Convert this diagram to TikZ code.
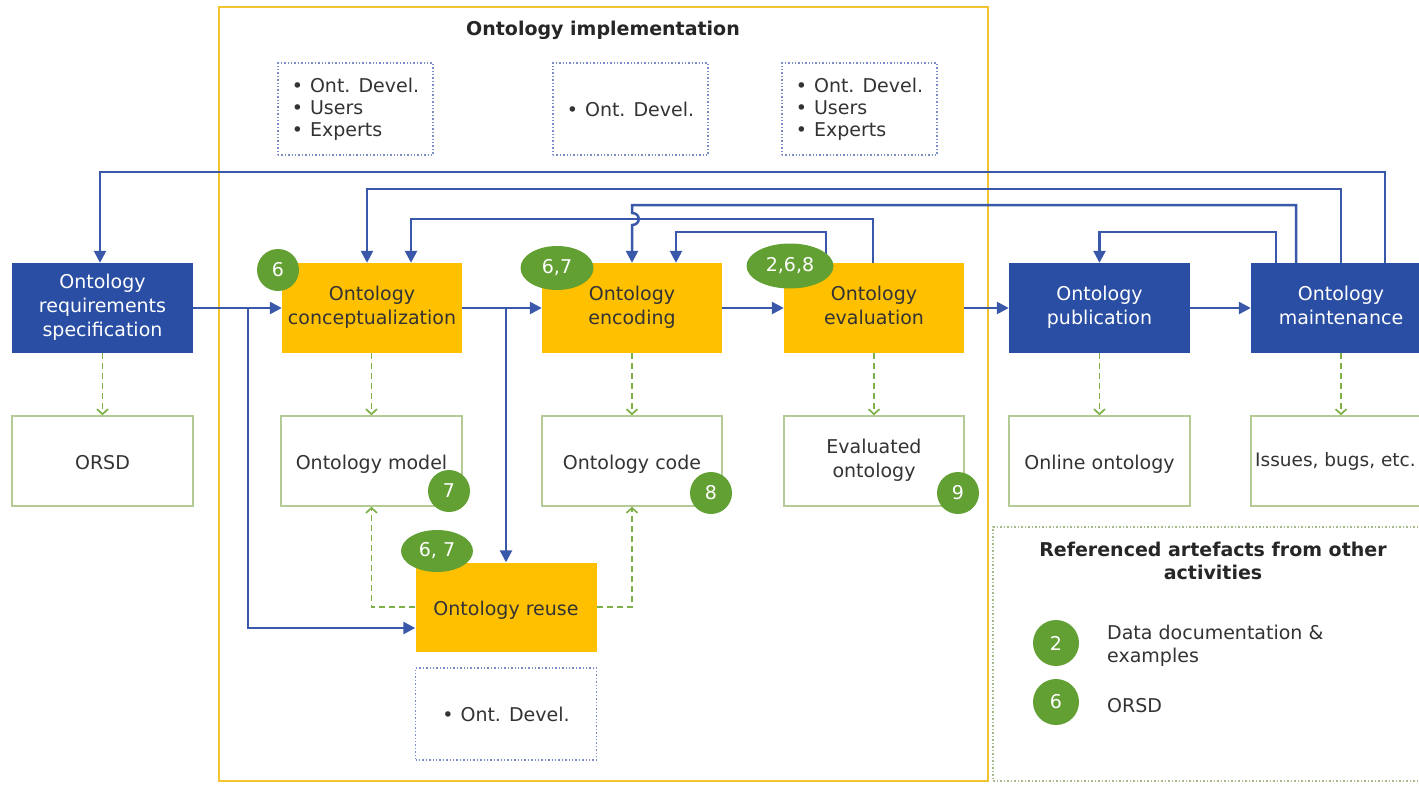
\documentclass[tikz,border=0pt]{standalone}
\usepackage{fontspec}
\setmainfont{DejaVu Sans}
\usetikzlibrary{arrows.meta,shapes.geometric,calc}
\definecolor{dblue}{HTML}{2A4EA3}
\definecolor{ablue}{HTML}{3A58AA}
\definecolor{oyellow}{HTML}{FFC000}
\definecolor{fyellow}{HTML}{F4C430}
\definecolor{gbadge}{HTML}{62A033}
\definecolor{obord}{HTML}{B5CB95}
\definecolor{dgreen}{HTML}{7DB046}
\definecolor{pdot}{HTML}{7C8CC6}
\definecolor{rdot}{HTML}{A5B98A}
\definecolor{txt}{HTML}{333333}
\tikzset{
  flow/.style={draw=ablue, line width=2.5pt, -{Triangle[length=12pt,width=12pt]}},
  prod/.style={draw=dgreen, line width=1.7pt, dash pattern=on 6pt off 4pt, -{Straight Barb[length=5pt,width=11pt]}},
  boxtext/.style={align=center, inner sep=0pt, execute at begin node=\rule{0pt}{23pt}, execute at end node=\rule[-6pt]{0pt}{6pt}},
  bluebox/.style={boxtext, fill=dblue, text=white, minimum width=181pt, minimum height=90pt},
  yelbox/.style={boxtext, fill=oyellow, text=txt, minimum width=180pt, minimum height=90pt},
  outbox/.style={boxtext, draw=obord, line width=1.5pt, fill=white, text=txt, minimum width=181pt, minimum height=90pt},
  pplbox/.style={draw=pdot, line width=1.4pt, dotted, minimum width=155pt, minimum height=92pt, align=left, inner sep=0pt, text=txt, font=\fontsize{19}{22}\selectfont},
  badge/.style={circle, fill=gbadge, text=white, minimum size=42pt, inner sep=0pt},
  obadge/.style={ellipse, fill=gbadge, text=white, minimum width=73pt, minimum height=44pt, inner sep=0pt},
}
\begin{document}
\begin{tikzpicture}[x=1pt,y=-1pt,font=\fontsize{19}{24}\selectfont]
\clip (0,0) rectangle (1419,785);
\fill[white] (0,0) rectangle (1419,785);

% frames
\draw[fyellow, line width=2pt] (219,7) rectangle (988,781);
\node[font=\bfseries\fontsize{19}{23}\selectfont, text=black!85] (ttl) at (603,30) {Ontology implementation};
\node[draw=rdot, line width=1.5pt, dotted, minimum width=432pt, minimum height=254pt, inner sep=0pt] (refbox) at (1209,654) {};

% people boxes
\node[pplbox] (ppl1) at (355.5,109) {•\hspace{7pt}Ont. Devel.\\•\hspace{7pt}Users\\•\hspace{7pt}Experts};
\node[pplbox] (ppl2) at (630.5,109) {•\hspace{7pt}Ont. Devel.};
\node[pplbox] (ppl3) at (859.5,109) {•\hspace{7pt}Ont. Devel.\\•\hspace{7pt}Users\\•\hspace{7pt}Experts};
\node[pplbox, minimum width=181pt] (ppl4) at (506,714) {•\hspace{7pt}Ont. Devel.};

% activity boxes
\node[bluebox] (ors) at (102.5,308) {Ontology\\requirements\\specification};
\node[yelbox] (concept) at (372,308) {Ontology\\conceptualization};
\node[yelbox] (encode) at (632,308) {Ontology\\encoding};
\node[yelbox] (eval) at (874,308) {Ontology\\evaluation};
\node[bluebox] (pub) at (1099.5,308) {Ontology\\publication};
\node[bluebox, minimum width=180pt] (maint) at (1341,308) {Ontology\\maintenance};
\node[yelbox, minimum width=181pt, minimum height=89pt] (reuse) at (506,607) {Ontology reuse};

% output boxes
\node[outbox] (orsd) at (102.5,461) {ORSD};
\node[outbox] (model) at (371.5,461) {Ontology model};
\node[outbox, minimum width=180pt] (code) at (632,461) {Ontology code};
\node[outbox, minimum width=180pt] (evald) at (874,461) {Evaluated\\ontology};
\node[outbox] (online) at (1099.5,461) {Online ontology};
\node[outbox, minimum width=180pt] (issues) at (1341,461) {};
\node[anchor=west, text=txt, inner sep=0pt, font=\fontsize{18.5}{22}\selectfont] (issuest) at (1255,462) {Issues, bugs, etc.\strut};

% forward flows
\draw[flow] (ors.east) -- (concept.west);
\draw[flow] (ors.east -| 248,0) |- ([yshift=-21pt]reuse.west);
\draw[flow] (concept.east) -- (encode.west);
\draw[flow] (concept.east -| reuse.north) -- (reuse.north);
\draw[flow] (encode.east) -- (eval.west);
\draw[flow] (eval.east) -- (pub.west);
\draw[flow] (pub.east) -- (maint.west);

% feedback loops
\draw[flow] ([xshift=44pt]maint.north) -- ++(0,-91) -| ([xshift=-2.5pt]ors.north);
\draw[flow] (maint.north) -- ++(0,-74) -| ([xshift=-5pt]concept.north);
\draw[flow] ([xshift=-1pt]eval.north) -- ++(0,-44) -| ([xshift=39pt]concept.north);
\draw[flow] ([xshift=-45pt]maint.north) |- (encode.north |- 0,205) -- (encode.north |- 0,213) .. controls +(9,0) and +(9,0) .. (encode.north |- 0,225) -- (encode.north);
\draw[flow] ([xshift=-48pt]eval.north) -- ++(0,-31) -| ([xshift=44pt]encode.north);
\draw[flow] ([xshift=-65pt]maint.north) -- ++(0,-31) -| (pub.north);

% products
\draw[prod] (ors.south) -- (orsd.north);
\draw[prod] (concept.south -| model.north) -- (model.north);
\draw[prod] (encode.south) -- (code.north);
\draw[prod] (eval.south) -- (evald.north);
\draw[prod] (pub.south) -- (online.north);
\draw[prod] (maint.south) -- (issues.north);
\draw[prod] (reuse.west) -| (model.south);
\draw[prod] (reuse.east) -| (code.south);

% badges
\node[badge] (b6) at (278,270) {6};
\node[obadge] (b67) at (557,268) {6,7};
\node[obadge, minimum width=87pt, minimum height=45pt] (b268) at (790,266) {2,6,8};
\node[badge] (b7) at (449,491) {7};
\node[badge] (b8) at (711,493) {8};
\node[badge] (b9) at (958,493) {9};
\node[obadge, minimum width=72pt, minimum height=42pt] (b67r) at (437,551) {6, 7};

% referenced artefacts
\node[font=\bfseries\fontsize{19}{23}\selectfont, align=center, text=black!85] (reftitle) at (1213,561) {Referenced artefacts from other\\activities};
\node[badge, minimum size=46pt] (r2) at (1056,643) {2};
\node[badge, minimum size=46pt] (r6) at (1056,702) {6};
\node[anchor=west, align=left, text=txt, font=\fontsize{19}{23}\selectfont, inner sep=0pt] (r2t) at (1107,646) {Data documentation \&\\examples};
\node[anchor=west, text=txt, inner sep=0pt] (r6t) at (1107,706) {ORSD};
\end{tikzpicture}
\end{document}
